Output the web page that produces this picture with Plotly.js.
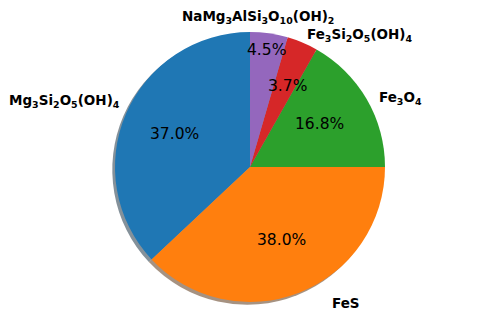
<!DOCTYPE html>
<html>
<head>
<meta charset="utf-8">
<script src="https://cdn.plot.ly/plotly-3.0.1.min.js"></script>
<style>html,body{margin:0;padding:0;background:#fff;}#chart{width:485px;height:318px;}</style>
</head>
<body>
<div id="chart"></div>
<script>
// ---- data ----
const labels = ['Mg<sub>3</sub>Si<sub>2</sub>O<sub>5</sub>(OH)<sub>4</sub>', 'FeS', 'Fe<sub>3</sub>O<sub>4</sub>', 'Fe<sub>3</sub>Si<sub>2</sub>O<sub>5</sub>(OH)<sub>4</sub>', 'NaMg<sub>3</sub>AlSi<sub>3</sub>O<sub>10</sub>(OH)<sub>2</sub>'];
const values = [37.0, 38.0, 16.8, 3.7, 4.5];
const colors = ['#1f77b4', '#ff7f0e', '#2ca02c', '#d62728', '#9467bd'];

// ---- layout helpers (pixel -> paper) ----
const W = 485, H = 318;
const px = x => x / W;
const py = y => 1 - y / H;
const cx = 250, cy = 167, R = 135, sh = 2.7;

const total = values.reduce((a, b) => a + b, 0);
// Plotly keeps the first slice in its clockwise spot for counterclockwise pies;
// rotate so the first slice starts at 12 o'clock and runs counterclockwise.
const rot = -values[0] / total * 360;

function shade(hex) {
  const r = parseInt(hex.slice(1,3),16), g = parseInt(hex.slice(3,5),16), b = parseInt(hex.slice(5,7),16);
  return 'rgba(' + Math.round(r*0.3) + ',' + Math.round(g*0.3) + ',' + Math.round(b*0.3) + ',0.5)';
}

const shadow = {
  type: 'pie', values: values, labels: labels.map(l => l + ' '), sort: false, direction: 'counterclockwise', rotation: rot,
  marker: {colors: colors.map(shade), line: {width: 0}},
  textinfo: 'none', hoverinfo: 'skip', showlegend: false,
  domain: {x: [px(cx - R - sh), px(cx + R - sh)], y: [py(cy + R + sh), py(cy - R + sh)]}
};
const pie = {
  type: 'pie', values: values, labels: labels, sort: false, direction: 'counterclockwise', rotation: rot,
  marker: {colors: colors, line: {width: 0}},
  textinfo: 'none', hoverinfo: 'skip', showlegend: false,
  domain: {x: [px(cx - R), px(cx + R)], y: [py(cy + R), py(cy - R)]}
};

// text placements (pixel positions of label anchors)
const labelPos = [
  {x: 122, y: 101, xa: 'right'},
  {x: 330, y: 303, xa: 'left'},
  {x: 377, y: 98, xa: 'left'},
  {x: 305, y: 35, xa: 'left'},
  {x: 180, y: 17, xa: 'left'}
];
const pctPos = [[174, 134], [281, 240], [319.5, 124], [287.5, 86], [266, 50]];

const annotations = [];
labels.forEach((lab, i) => {
  annotations.push({
    xref: 'paper', yref: 'paper', x: px(labelPos[i].x), y: py(labelPos[i].y),
    xanchor: labelPos[i].xa, yanchor: 'middle', showarrow: false,
    text: '<b>' + lab + '</b>',
    font: {family: 'DejaVu Sans', size: 13.5, color: '#000'}
  });
  annotations.push({
    xref: 'paper', yref: 'paper', x: px(pctPos[i][0]), y: py(pctPos[i][1]),
    xanchor: 'center', yanchor: 'middle', showarrow: false,
    text: (values[i] / total * 100).toFixed(1) + '%',
    font: {family: 'DejaVu Sans', size: 15.5, color: '#000'}
  });
});

const layout = {
  width: W, height: H,
  margin: {l: 0, r: 0, t: 0, b: 0, pad: 0},
  paper_bgcolor: '#fff', plot_bgcolor: '#fff',
  showlegend: false,
  annotations: annotations
};
Plotly.newPlot('chart', [shadow, pie], layout, {staticPlot: true, displayModeBar: false});
</script>
</body>
</html>
